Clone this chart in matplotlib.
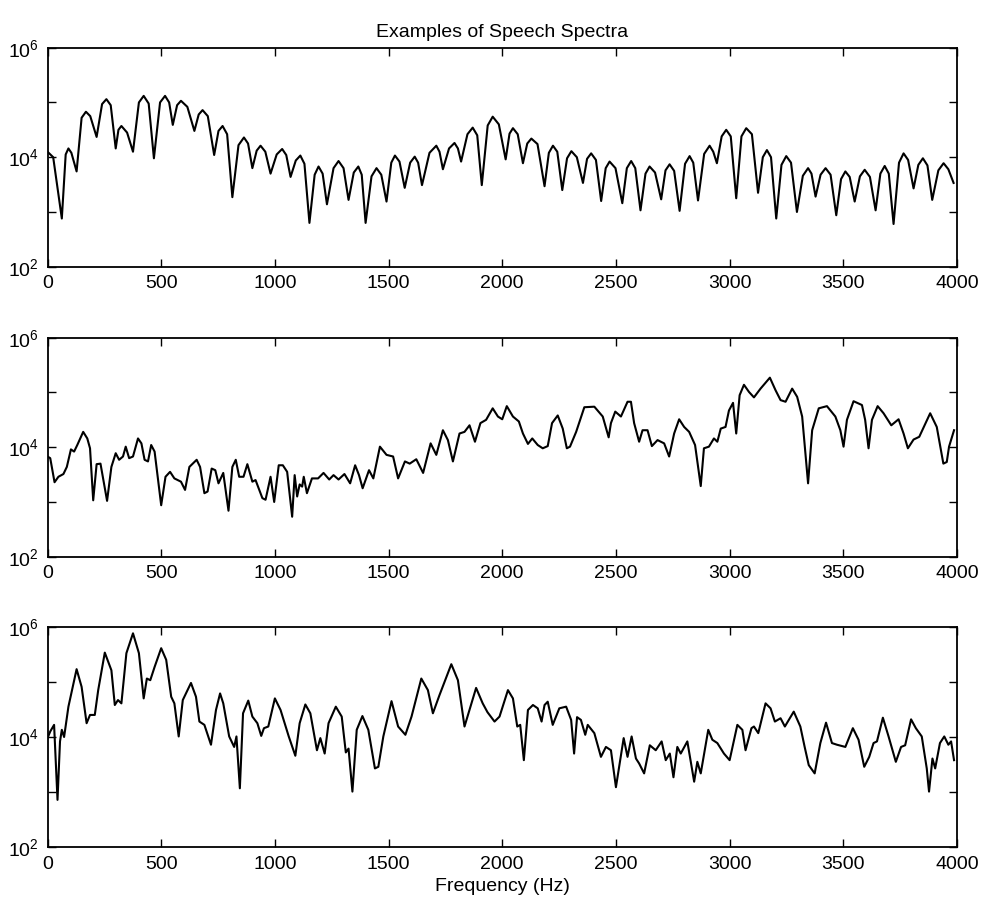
import numpy as np
import matplotlib
matplotlib.use("Agg")
import matplotlib.pyplot as plt

plt.rcParams['font.family'] = ['Liberation Sans', 'DejaVu Sans']
plt.rcParams['mathtext.fontset'] = 'custom'
plt.rcParams['mathtext.rm'] = 'Liberation Sans'
plt.rcParams['mathtext.it'] = 'Liberation Sans'
plt.rcParams['mathtext.default'] = 'regular'

# ---------------- data (frequency in Hz, log10 magnitude) ----------------
freq_top = [0, 25, 63, 80, 92, 105, 128, 150, 169, 188, 216, 240, 259, 278, 300, 312, 325,
            350, 376, 402, 423, 445, 468, 495, 517, 535, 551, 570, 587, 615, 646, 665, 682,
            705, 733, 752, 770, 790, 813, 840, 864, 882, 901, 920, 937, 958, 981, 1008,
            1032, 1050, 1069, 1092, 1112, 1130, 1152, 1175, 1192, 1210, 1229, 1258, 1280,
            1302, 1324, 1347, 1367, 1382, 1399, 1425, 1447, 1468, 1491, 1512, 1528, 1548,
            1571, 1595, 1615, 1630, 1647, 1680, 1710, 1724, 1739, 1766, 1790, 1805, 1819,
            1847, 1870, 1890, 1910, 1936, 1958, 1985, 2015, 2032, 2047, 2068, 2091, 2110,
            2128, 2155, 2186, 2205, 2223, 2242, 2264, 2285, 2304, 2328, 2355, 2373, 2391,
            2412, 2435, 2455, 2472, 2498, 2528, 2548, 2567, 2585, 2608, 2630, 2648, 2672,
            2699, 2718, 2736, 2756, 2780, 2804, 2824, 2840, 2861, 2888, 2912, 2928, 2944,
            2965, 2985, 3005, 3029, 3052, 3073, 3098, 3125, 3146, 3164, 3182, 3205, 3228,
            3249, 3270, 3296, 3322, 3345, 3360, 3378, 3400, 3422, 3444, 3469, 3490, 3509,
            3528, 3550, 3573, 3594, 3617, 3642, 3663, 3682, 3700, 3721, 3745, 3765, 3785,
            3809, 3830, 3850, 3870, 3891, 3918, 3941, 3962, 3985]
level_top = [4.10, 4.00, 2.88, 4.05, 4.16, 4.08, 3.74, 4.72, 4.83, 4.75, 4.37, 4.97, 5.06,
             4.95, 4.16, 4.50, 4.57, 4.45, 4.10, 5.00, 5.12, 4.98, 3.98, 5.00, 5.12, 5.00,
             4.59, 4.95, 5.03, 4.92, 4.48, 4.78, 4.86, 4.75, 4.04, 4.48, 4.57, 4.42, 3.27,
             4.22, 4.36, 4.25, 3.80, 4.12, 4.21, 4.10, 3.70, 4.05, 4.15, 4.04, 3.64, 3.94,
             4.03, 3.88, 2.80, 3.68, 3.83, 3.70, 3.14, 3.80, 3.93, 3.80, 3.22, 3.72, 3.83,
             3.68, 2.80, 3.65, 3.80, 3.68, 3.19, 3.90, 4.03, 3.92, 3.44, 3.90, 4.01, 3.90,
             3.49, 4.08, 4.21, 4.10, 3.78, 4.16, 4.26, 4.16, 3.92, 4.42, 4.54, 4.40, 3.49,
             4.58, 4.74, 4.60, 3.96, 4.43, 4.53, 4.42, 3.89, 4.25, 4.34, 4.24, 3.47, 4.08,
             4.21, 4.10, 3.40, 3.98, 4.11, 4.00, 3.53, 3.97, 4.07, 3.95, 3.20, 3.80, 3.92,
             3.80, 3.16, 3.80, 3.93, 3.80, 3.03, 3.70, 3.83, 3.72, 3.23, 3.76, 3.87, 3.75,
             3.02, 3.88, 4.02, 3.90, 3.21, 4.06, 4.21, 4.10, 3.89, 4.38, 4.50, 4.38, 3.25,
             4.38, 4.53, 4.42, 3.35, 4.00, 4.13, 4.00, 2.88, 3.86, 4.02, 3.90, 3.00, 3.66,
             3.80, 3.70, 3.28, 3.68, 3.80, 3.68, 2.94, 3.60, 3.74, 3.64, 3.19, 3.65, 3.77,
             3.64, 3.03, 3.70, 3.84, 3.70, 2.78, 3.90, 4.07, 3.95, 3.43, 3.86, 3.98, 3.85,
             3.22, 3.76, 3.89, 3.78, 3.53]

freq_mid = [0, 12, 31, 48, 70, 85, 103, 117, 131, 157, 175, 187, 201, 216, 233, 262, 281,
            300, 315, 332, 344, 359, 376, 398, 413, 427, 442, 456, 471, 500, 519, 539, 558,
            587, 605, 624, 656, 671, 690, 704, 722, 738, 752, 773, 796, 813, 828, 843, 862,
            879, 901, 915, 945, 959, 981, 997, 1017, 1035, 1054, 1076, 1087, 1098, 1109,
            1120, 1127, 1141, 1163, 1190, 1214, 1239, 1258, 1280, 1306, 1331, 1353, 1370,
            1386, 1414, 1433, 1462, 1491, 1520, 1542, 1572, 1593, 1622, 1652, 1685, 1710,
            1739, 1761, 1783, 1812, 1834, 1856, 1880, 1904, 1929, 1958, 1981, 2000, 2020,
            2047, 2073, 2091, 2113, 2132, 2156, 2178, 2200, 2219, 2244, 2266, 2284, 2298,
            2325, 2361, 2405, 2442, 2468, 2478, 2497, 2522, 2551, 2566, 2580, 2602, 2617,
            2639, 2658, 2683, 2712, 2734, 2756, 2778, 2800, 2822, 2848, 2873, 2887, 2909,
            2931, 2946, 2961, 2982, 2997, 3015, 3029, 3044, 3063, 3085, 3107, 3136, 3177,
            3202, 3224, 3246, 3275, 3297, 3319, 3345, 3363, 3392, 3428, 3465, 3487, 3501,
            3516, 3545, 3582, 3596, 3611, 3626, 3651, 3677, 3711, 3743, 3765, 3784, 3809,
            3834, 3882, 3911, 3940, 3955, 3965, 3987]
level_mid = [3.83, 3.80, 3.36, 3.46, 3.51, 3.64, 3.96, 3.92, 4.04, 4.28, 4.16, 3.98, 3.03,
             3.69, 3.70, 3.02, 3.64, 3.89, 3.77, 3.83, 4.01, 3.80, 3.83, 4.16, 4.07, 3.77,
             3.74, 4.04, 3.92, 2.94, 3.46, 3.55, 3.43, 3.37, 3.22, 3.64, 3.77, 3.64, 3.16,
             3.19, 3.61, 3.58, 3.34, 3.53, 2.84, 3.64, 3.77, 3.46, 3.46, 3.69, 3.37, 3.40,
             3.07, 3.04, 3.46, 3.00, 3.67, 3.67, 3.55, 2.73, 3.49, 3.10, 3.32, 3.28, 3.46,
             3.16, 3.43, 3.43, 3.53, 3.41, 3.49, 3.41, 3.51, 3.34, 3.67, 3.49, 3.25, 3.58,
             3.43, 4.01, 3.86, 3.83, 3.43, 3.74, 3.70, 3.78, 3.53, 4.07, 3.86, 4.31, 4.13,
             3.74, 4.25, 4.28, 4.40, 4.10, 4.44, 4.50, 4.71, 4.56, 4.51, 4.75, 4.56, 4.47,
             4.25, 4.06, 4.16, 4.04, 3.98, 4.02, 4.44, 4.58, 4.34, 3.98, 4.01, 4.28, 4.73,
             4.74, 4.56, 4.18, 4.44, 4.65, 4.56, 4.83, 4.83, 4.44, 4.10, 4.31, 4.31, 4.02,
             4.13, 4.07, 3.83, 4.25, 4.51, 4.37, 4.28, 4.04, 3.29, 3.98, 4.01, 4.16, 4.10,
             4.34, 4.37, 4.67, 4.81, 4.25, 4.95, 5.14, 5.01, 4.91, 5.07, 5.27, 5.04, 4.86,
             4.83, 5.07, 4.92, 4.56, 3.34, 4.31, 4.71, 4.75, 4.56, 4.31, 4.01, 4.50, 4.84,
             4.77, 4.50, 3.98, 4.50, 4.75, 4.62, 4.40, 4.51, 4.25, 3.98, 4.14, 4.19, 4.62,
             4.37, 3.70, 3.73, 4.01, 4.31]

freq_bot = [0, 12, 29, 44, 55, 63, 73, 92, 128, 150, 172, 187, 208, 223, 252, 281, 296, 310,
            325, 347, 376, 402, 423, 437, 452, 471, 500, 522, 544, 558, 577, 595, 631, 653,
            668, 690, 719, 741, 759, 773, 799, 821, 831, 846, 860, 883, 901, 923, 940, 952,
            971, 1000, 1025, 1061, 1090, 1109, 1134, 1156, 1185, 1200, 1219, 1236, 1268,
            1294, 1312, 1324, 1341, 1360, 1385, 1411, 1440, 1455, 1477, 1513, 1542, 1574,
            1601, 1644, 1673, 1695, 1724, 1776, 1805, 1834, 1856, 1885, 1914, 1935, 1966,
            1988, 2025, 2047, 2066, 2079, 2095, 2113, 2135, 2156, 2173, 2186, 2200, 2222,
            2251, 2281, 2303, 2316, 2329, 2346, 2365, 2376, 2405, 2434, 2456, 2478, 2500,
            2534, 2551, 2569, 2588, 2602, 2624, 2649, 2675, 2701, 2719, 2737, 2753, 2770,
            2785, 2814, 2844, 2858, 2873, 2906, 2924, 2946, 2975, 3000, 3034, 3056, 3070,
            3096, 3107, 3126, 3158, 3180, 3199, 3224, 3243, 3282, 3311, 3330, 3348, 3374,
            3399, 3424, 3450, 3472, 3509, 3542, 3567, 3592, 3614, 3633, 3648, 3674, 3699,
            3731, 3754, 3772, 3798, 3819, 3845, 3867, 3877, 3892, 3904, 3925, 3944, 3962,
            3974, 3987]
level_bot = [3.98, 4.10, 4.22, 2.86, 3.92, 4.13, 4.00, 4.55, 5.23, 4.91, 4.25, 4.40, 4.40,
             4.85, 5.53, 5.21, 4.58, 4.67, 4.61, 5.52, 5.88, 5.52, 4.70, 5.06, 5.03, 5.27,
             5.61, 5.40, 4.73, 4.61, 4.01, 4.67, 4.98, 4.73, 4.28, 4.22, 3.86, 4.49, 4.79,
             4.61, 4.01, 3.82, 4.01, 3.07, 4.43, 4.66, 4.37, 4.25, 4.02, 4.16, 4.19, 4.70,
             4.49, 4.01, 3.66, 4.25, 4.59, 4.43, 3.76, 3.98, 3.70, 4.25, 4.55, 4.37, 3.72,
             3.79, 3.01, 4.13, 4.38, 4.13, 3.43, 3.46, 4.01, 4.65, 4.19, 4.04, 4.37, 5.06,
             4.85, 4.43, 4.76, 5.32, 5.03, 4.19, 4.49, 4.89, 4.61, 4.45, 4.28, 4.37, 4.85,
             4.70, 4.19, 4.22, 3.58, 4.49, 4.58, 4.52, 4.28, 4.58, 4.64, 4.22, 4.52, 4.55,
             4.31, 3.70, 4.36, 4.31, 4.04, 4.22, 4.07, 3.64, 3.82, 3.76, 3.09, 3.98, 3.64,
             4.01, 3.61, 3.52, 3.34, 3.85, 3.76, 3.92, 3.58, 3.70, 3.27, 3.82, 3.70, 3.92,
             3.19, 3.55, 3.34, 4.13, 3.95, 3.89, 3.70, 3.58, 4.22, 4.13, 3.76, 4.16, 4.19,
             4.07, 4.61, 4.52, 4.28, 4.34, 4.19, 4.46, 4.19, 3.82, 3.49, 3.34, 3.89, 4.26,
             3.89, 3.86, 3.82, 4.16, 3.95, 3.46, 3.64, 3.89, 3.92, 4.35, 4.01, 3.55, 3.82,
             3.85, 4.32, 4.16, 4.01, 3.43, 3.01, 3.61, 3.43, 3.89, 4.01, 3.86, 3.92, 3.58]

title_text = "Examples of Speech Spectra"
xlabel_text = "Frequency (Hz)"
xticks = [0, 500, 1000, 1500, 2000, 2500, 3000, 3500, 4000]
yticks = [1e2, 1e3, 1e4, 1e5, 1e6]
ytick_labels = [r'$10^{2}$', '', r'$10^{4}$', '', r'$10^{6}$']

# ---------------- figure ----------------
fig = plt.figure(figsize=(9.85, 9.08), dpi=100)
W, H = 985.0, 908.0
left = 47.5 / W
width = (957.0 - 47.5) / W
panels = [(47.7, 266.7), (337.7, 556.7), (626.7, 847.3)]
series = [(freq_top, level_top), (freq_mid, level_mid), (freq_bot, level_bot)]

axes = []
for (ytop, ybot), (f, lv) in zip(panels, series):
    n = min(len(f), len(lv))
    ax = fig.add_axes([left, 1 - ybot / H, width, (ybot - ytop) / H])
    ax.plot(f[:n], 10 ** np.asarray(lv[:n]), color='black', lw=1.5,
            solid_joinstyle='round')
    ax.set_yscale('log')
    ax.set_xlim(0, 4000)
    ax.set_ylim(1e2, 1e6)
    ax.set_xticks(xticks)
    ax.set_xticklabels([str(t) for t in xticks])
    ax.set_yticks(yticks)
    ax.set_yticklabels(ytick_labels)
    ax.yaxis.set_minor_locator(matplotlib.ticker.NullLocator())
    ax.tick_params(direction='in', length=6, width=1.0, top=True, right=True,
                   labelsize=14, pad=6, colors='black')
    for s in ax.spines.values():
        s.set_linewidth(1.3)
    axes.append(ax)

axes[0].set_title(title_text, fontsize=14, pad=8)
axes[2].set_xlabel(xlabel_text, fontsize=14, labelpad=4)

fig.savefig("out.png", dpi=100)
